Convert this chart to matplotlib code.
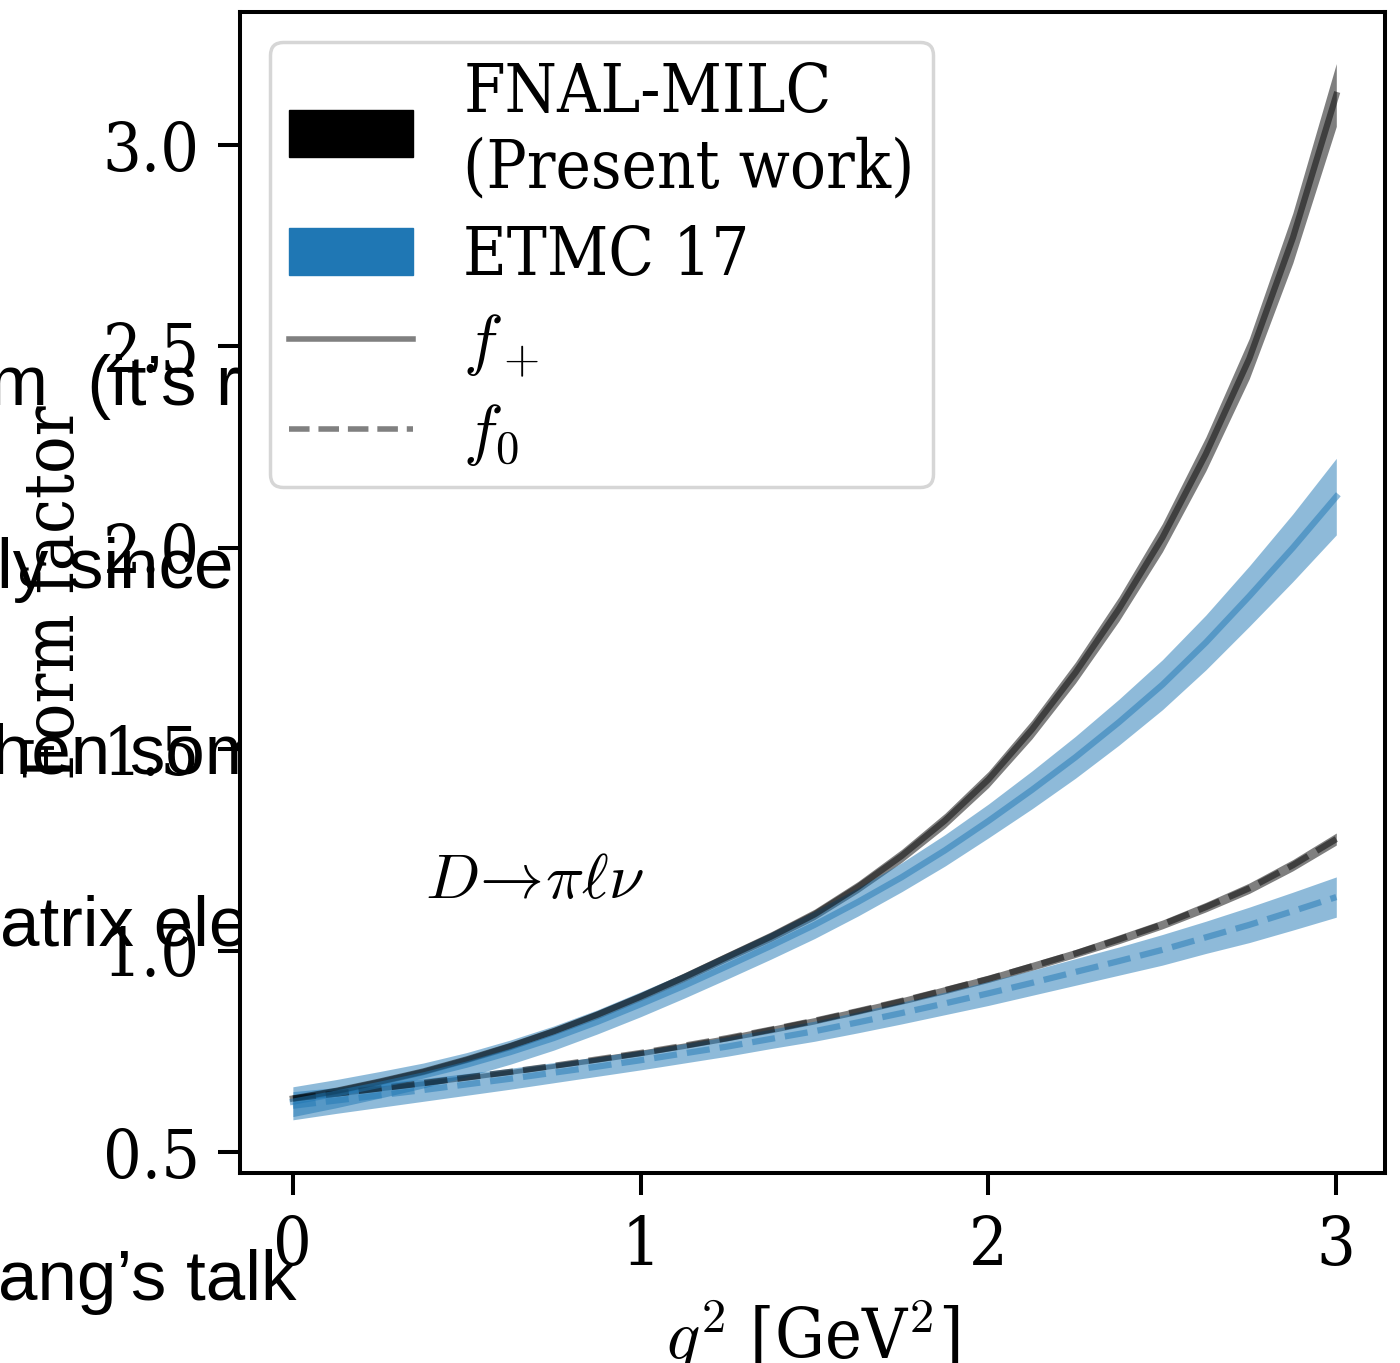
import numpy as np
import matplotlib.pyplot as plt
from matplotlib.patches import Patch
from matplotlib.lines import Line2D

plt.rcParams['font.family'] = ['DejaVu Serif']
plt.rcParams['font.stretch'] = 'condensed'
plt.rcParams['mathtext.fontset'] = 'cm'

# q^2 grid [GeV^2]
q2 = [0.0, 0.125, 0.25, 0.375, 0.5, 0.625, 0.75, 0.875, 1.0, 1.125, 1.25, 1.375, 1.5,
	1.625, 1.75, 1.875, 2.0, 2.125, 2.25, 2.375, 2.5, 2.625, 2.75, 2.875, 3.0]

# FNAL-MILC (present work)
fnal_fp = [0.633, 0.652, 0.675, 0.700, 0.730, 0.763, 0.800, 0.841, 0.886, 0.934, 0.985, 1.035, 1.090,
	1.158, 1.235, 1.323, 1.425, 1.549, 1.690, 1.848, 2.025, 2.233, 2.470, 2.769, 3.124]
fnal_fp_err = [0.008, 0.008, 0.008, 0.008, 0.008, 0.009, 0.009, 0.010, 0.010, 0.011, 0.011, 0.012, 0.013,
	0.014, 0.016, 0.018, 0.020, 0.023, 0.026, 0.030, 0.035, 0.042, 0.050, 0.062, 0.078]
fnal_f0 = [0.633, 0.645, 0.658, 0.671, 0.685, 0.699, 0.714, 0.730, 0.746, 0.764, 0.783, 0.804, 0.826,
	0.850, 0.875, 0.902, 0.930, 0.961, 0.993, 1.028, 1.065, 1.108, 1.155, 1.212, 1.277]
fnal_f0_err = [0.006, 0.006, 0.006, 0.006, 0.006, 0.006, 0.006, 0.007, 0.007, 0.007, 0.007, 0.008, 0.008,
	0.008, 0.008, 0.009, 0.009, 0.010, 0.010, 0.011, 0.011, 0.012, 0.013, 0.014, 0.015]

# ETMC 17
etmc_fp = [0.625, 0.645, 0.667, 0.690, 0.717, 0.748, 0.783, 0.823, 0.867, 0.913, 0.962, 1.012, 1.064,
	1.121, 1.182, 1.249, 1.322, 1.399, 1.480, 1.567, 1.660, 1.765, 1.880, 2.000, 2.127]
etmc_fp_err = [0.037, 0.035, 0.033, 0.031, 0.030, 0.030, 0.030, 0.030, 0.031, 0.031, 0.032, 0.033, 0.034,
	0.035, 0.036, 0.039, 0.042, 0.047, 0.052, 0.057, 0.062, 0.068, 0.075, 0.084, 0.095]
etmc_f0 = [0.615, 0.628, 0.641, 0.654, 0.668, 0.682, 0.697, 0.712, 0.728, 0.745, 0.762, 0.781, 0.800,
	0.822, 0.845, 0.869, 0.894, 0.920, 0.947, 0.974, 1.002, 1.033, 1.064, 1.098, 1.133]
etmc_f0_err = [0.035, 0.032, 0.030, 0.028, 0.027, 0.026, 0.025, 0.024, 0.024, 0.024, 0.024, 0.024, 0.025,
	0.026, 0.027, 0.028, 0.030, 0.031, 0.033, 0.035, 0.038, 0.040, 0.044, 0.047, 0.050]

# slide text peeking out from behind the plot
slide_text = ['m  (it\u2019s r', 'ly since', 'hen som', 'atrix ele', 'ang\u2019s talk']
slide_x = [-11, -3, -8, 0, -2]
slide_y = [405, 588, 774, 946, 1300]

W, H = 1400, 1363
fig = plt.figure(figsize=(W/100, H/100), dpi=100)
ax = fig.add_axes([240/W, 1-1173/H, (1385-240)/W, (1173-12)/H])

q = np.array(q2)

def band(y, err, color, ls):
	y = np.array(y)
	err = np.array(err)
	ax.fill_between(q, y-err, y+err, color=color, alpha=0.5, lw=0)
	ax.plot(q, y, color=color, alpha=0.5, lw=4.5, ls=ls)

band(fnal_fp, fnal_fp_err, 'black', '-')
band(fnal_f0, fnal_f0_err, 'black', '--')
band(etmc_fp, etmc_fp_err, 'C0', '-')
band(etmc_f0, etmc_f0_err, 'C0', '--')

ax.text(0.38, 1.175, r'$D\!\rightarrow\!\pi\ell\nu$', fontsize=46, va='center')

ax.set_xlim(-0.152, 3.14)
ax.set_ylim(0.448, 3.33)
ax.set_xticks([0, 1, 2, 3])
ax.set_yticks([0.5, 1.0, 1.5, 2.0, 2.5, 3.0])
ax.tick_params(direction='out', length=16, width=2.9, labelsize=49, pad=13)
for s in ax.spines.values():
	s.set_linewidth(2.9)

ax.set_xlabel(r'$q^2$ [GeV$^2$]', fontsize=50)
ax.set_ylabel('Form factor', fontsize=50)
ax.xaxis.set_label_coords(0.5, -0.108)
ax.yaxis.set_label_coords(-0.133, 0.5)

handles = [Patch(color='black'), Patch(color='C0'),
	Line2D([], [], color='gray', lw=4), Line2D([], [], color='gray', lw=4, ls='--')]
labels = ['FNAL-MILC\n(Present work)', 'ETMC 17', r'$f_+$', r'$f_0$']
leg = ax.legend(handles, labels, loc='upper left', fontsize=48, handlelength=1.87,
	handletextpad=0.75, labelspacing=0.33, borderpad=0.28, borderaxespad=0.45, fancybox=True)
leg.get_frame().set_edgecolor('0.8')
leg.get_frame().set_linewidth(2.5)

for t, x, y in zip(slide_text, slide_x, slide_y):
	fig.text(x/W, 1-y/H, t, fontsize=51, family='Liberation Sans', stretch='normal',
		va='baseline', zorder=-1)

fig.savefig('out.png', dpi=100)
